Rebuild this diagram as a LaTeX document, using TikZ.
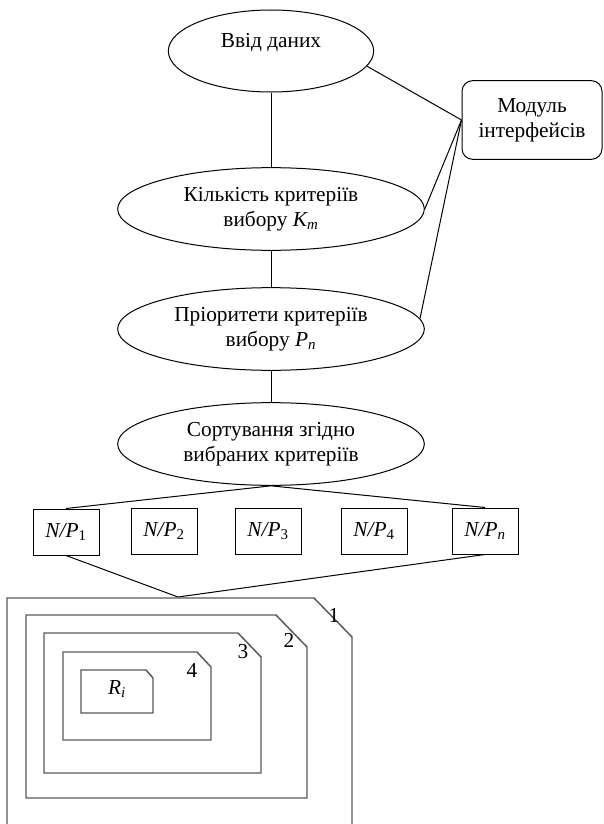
\documentclass[tikz,border=0pt]{standalone}
\usepackage{fontspec}
\setmainfont{Liberation Serif}
\usepackage{tikz}
\usetikzlibrary{shapes.geometric}

\tikzset{
  oval/.style={draw, ellipse, inner sep=0pt, minimum width=230pt, minimum height=62pt, align=center},
  npbox/.style={draw, rectangle, inner sep=0pt, minimum width=49.5pt, minimum height=34.5pt},
  frame/.style={draw=black!65, line width=1.1pt, line join=miter}
}

\begin{document}
\begin{tikzpicture}[x=0.75pt,y=-0.75pt,line width=0.75pt,font=\fontsize{16}{18.75}\selectfont]
\useasboundingbox (0,0) rectangle (603,824);

		\node[oval, minimum width=154pt, minimum height=61.5pt,
		  label={[yshift=6.5pt]center:Ввід даних}] (input) at (271,51) {};
		\node[oval] (count) at (271,209) {Кількість критеріїв\\вибору \textit{K\textsubscript{m}}};
		\node[oval] (prio)  at (271,329) {Пріоритети критеріїв\\вибору \textit{P\textsubscript{n}}};
		\node[oval] (sort)  at (271,444) {Сортування згідно\\вибраних критеріїв};

		\node[draw, rounded corners=8pt, minimum width=105pt, minimum height=59pt,
		  inner sep=0pt, align=center] (module) at (532,120) {Модуль\\інтерфейсів};

			\node[npbox] (np1) at (66,532)  {\textit{N/P}\textsubscript{1}};
			\node[npbox] (np2) at (164,531) {\textit{N/P}\textsubscript{2}};
			\node[npbox] (np3) at (268,531) {\textit{N/P}\textsubscript{3}};
			\node[npbox] (np4) at (374,531) {\textit{N/P}\textsubscript{4}};
			\node[npbox] (npn) at (485,531) {\textit{N/P\textsubscript{n}}};

 \draw (input.south)--(count.north);
 \draw (count.south)--(prio.north);
 \draw (prio.south)--(sort.north);

 \draw (input.-9)--(module.west);
 \draw (count.east)--(module.west);
 \draw (prio.4)--(module.west);

 \draw (sort.south)--(np1.north);
 \draw (sort.south)--(npn.north);

 \coordinate (frametop) at (178,597);
 \draw (np1.south)--(frametop);
 \draw (npn.south)--(frametop);

 % nested regions
 \draw[frame] (7,824)--(7,598)--(314,598)--(352,637)--(352,824);
 \draw[frame] (26,798)--(26,615)--(276,615)--(307,647)--(307,798)--cycle;
 \draw[frame] (44,773)--(44,633)--(238,633)--(261,657)--(261,773)--cycle;
 \draw[frame] (63,740)--(63,652)--(197,652)--(211,667)--(211,740)--cycle;
 \draw[frame] (81,713)--(81,670)--(146,670)--(153,678)--(153,713)--cycle;

  \node (n1) at (334,615) {1};
  \node (n2) at (289,640) {2};
  \node (n3) at (243,652) {3};
  \node (n4) at (192,670) {4};
  \node (ri) at (117,689) {\textit{R\textsubscript{i}}};
\end{tikzpicture}
\end{document}
